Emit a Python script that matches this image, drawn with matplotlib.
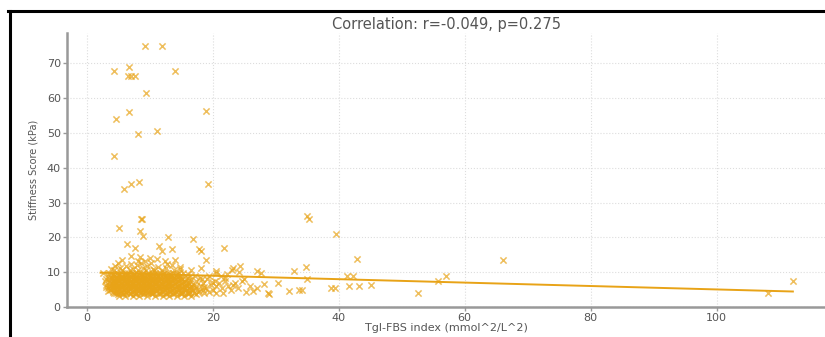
import numpy as np
import matplotlib
matplotlib.use("Agg")
import matplotlib.pyplot as plt
from matplotlib.lines import Line2D

# isolated high points
out_x = [9.25, 11.95, 4.3, 6.77, 6.5, 7.0, 7.67, 14.0, 9.37, 4.65, 6.77, 19.0,
         8.2, 11.1, 4.3, 5.97, 7.03, 8.35, 19.25, 8.67, 8.7, 5.17, 8.5, 9.0,
         12.85, 16.8, 6.35, 7.67, 11.5, 12.0, 13.6, 17.8, 18.2, 21.8, 13.97,
         18.9, 18.1]
out_y = [74.9, 74.9, 67.7, 69.0, 66.3, 66.3, 66.3, 67.7, 61.4, 54.1, 56.0, 56.2,
         49.6, 50.5, 43.5, 33.8, 35.3, 35.8, 35.3, 25.4, 25.2, 22.8, 21.9, 20.4,
         20.1, 19.5, 18.2, 17.0, 17.4, 16.1, 16.7, 16.7, 16.1, 17.0, 13.4,
         13.4, 11.3]

# points to the right of the main cluster
far_x = [34.9, 35.3, 39.5, 42.95, 66.1, 27.6, 32.9, 34.8, 35.0, 32.1, 33.7, 34.2,
         38.8, 39.4, 41.3, 42.2, 41.6, 43.3, 45.1, 52.6, 55.7, 57.0, 108.2, 112.1,
         26.0, 26.4, 27.1, 28.1, 28.7, 29.0, 30.3]
far_y = [26.1, 25.4, 20.9, 13.8, 13.6, 9.9, 10.3, 11.6, 8.0, 4.7, 4.8, 5.0,
         5.4, 5.4, 8.9, 8.9, 6.0, 5.9, 6.2, 3.9, 7.5, 8.8, 4.0, 7.4,
         5.9, 4.5, 5.5, 6.7, 3.9, 3.6, 7.0]

# the dense cluster, read row by row (y level, x positions)
row_y = [3.3, 3.9, 4.4, 4.9, 5.4, 5.9, 6.4, 6.9, 7.4, 7.9, 8.4, 8.9, 9.4, 9.9, 10.5]
row_x = [
    [5.2, 6.1, 7.4, 8.3, 9.6, 10.8, 12.1, 13.0, 14.4, 15.5, 16.6],
    [4.6, 5.7, 6.8, 7.9, 9.1, 10.2, 11.5, 12.6, 13.7, 14.9, 16.0, 17.1, 18.6, 21.7],
    [4.1, 5.0, 6.3, 7.2, 8.6, 9.8, 10.6, 11.9, 13.3, 14.2, 15.3, 16.4, 17.6, 19.4, 25.3],
    [3.7, 4.8, 5.9, 6.6, 7.7, 8.9, 9.4, 10.5, 11.2, 12.4, 13.5, 14.7, 15.8, 16.9, 18.5, 20.1, 22.9],
    [3.4, 4.4, 5.3, 6.2, 7.0, 8.1, 8.8, 9.9, 10.9, 11.7, 12.8, 13.9, 15.0, 16.2, 17.3, 19.0, 21.4, 24.0],
    [3.9, 4.9, 5.6, 6.5, 7.5, 8.4, 9.2, 10.1, 11.0, 12.2, 13.1, 14.3, 15.4, 16.6, 18.1, 20.6, 22.5],
    [3.0, 4.3, 5.1, 6.0, 6.9, 7.8, 8.6, 9.5, 10.4, 11.4, 12.5, 13.6, 14.6, 15.7, 17.0, 19.7, 23.3],
    [3.8, 4.7, 5.5, 6.4, 7.3, 8.2, 9.0, 9.9, 10.8, 11.8, 12.9, 14.0, 15.1, 16.3, 18.4, 21.0, 23.6],
    [2.9, 4.2, 5.2, 6.1, 7.1, 7.9, 8.7, 9.6, 10.6, 11.5, 12.6, 13.4, 14.5, 15.6, 17.4, 20.3, 21.9, 24.6],
    [3.6, 4.6, 5.4, 6.3, 7.4, 8.3, 9.3, 10.2, 11.1, 12.3, 13.2, 14.2, 15.2, 16.5, 18.3, 19.1, 24.9],
    [4.0, 5.0, 5.8, 6.7, 7.6, 8.5, 9.4, 10.5, 11.6, 12.7, 13.8, 15.0, 16.1, 18.0, 22.0],
    [3.3, 4.4, 5.6, 6.8, 7.9, 9.0, 10.1, 11.3, 12.4, 13.6, 14.8, 17.2, 19.4, 21.3],
    [4.1, 5.2, 6.4, 7.5, 8.8, 9.8, 11.0, 12.1, 13.3, 14.4, 16.0, 22.2],
    [2.6, 4.8, 6.0, 7.2, 8.4, 9.7, 10.9, 12.2, 13.7, 15.3, 20.6],
    [4.3, 5.6, 6.9, 8.1, 9.4, 10.7, 12.0, 13.9, 16.5, 23.1],
]

# second pass over the cluster, between the rows above
row2_y = [3.6, 4.15, 4.65, 5.15, 5.65, 6.15, 6.65, 7.15, 7.65, 8.15, 8.65, 9.15, 9.7]
row2_x = [
    [4.9, 5.7, 6.8, 7.9, 9.0, 10.3, 11.5, 12.6, 13.7, 14.9, 16.1, 17.4],
    [4.3, 5.3, 6.2, 7.5, 8.5, 9.5, 10.5, 11.8, 12.9, 14.0, 15.1, 16.2, 20.5],
    [3.3, 4.6, 5.5, 6.6, 7.5, 8.2, 9.2, 10.1, 11.0, 12.0, 13.0, 14.1, 15.0, 16.0, 17.8],
    [3.8, 4.2, 5.1, 6.0, 6.9, 7.9, 8.6, 9.6, 10.3, 11.4, 12.2, 13.2, 14.3, 15.4, 16.5],
    [3.1, 4.7, 5.5, 6.6, 7.3, 8.0, 8.9, 9.7, 10.6, 11.4, 12.3, 13.2, 14.2, 15.2, 16.4, 18.6],
    [3.6, 4.3, 5.2, 6.1, 7.0, 7.8, 8.7, 9.6, 10.5, 11.5, 12.6, 13.6, 14.7, 15.9, 17.4],
    [4.2, 4.7, 5.5, 6.4, 7.3, 8.1, 9.0, 9.9, 10.9, 11.9, 13.0, 14.0, 15.1, 16.3],
    [3.5, 4.4, 5.2, 6.0, 6.8, 7.6, 8.5, 9.4, 10.3, 11.2, 12.2, 13.2, 14.3, 15.4, 19.9],
    [4.4, 4.8, 5.7, 6.6, 7.5, 8.4, 9.1, 10.0, 11.0, 11.9, 12.9, 13.9, 15.0, 16.2],
    [3.1, 4.3, 5.1, 6.0, 7.0, 7.9, 8.9, 9.8, 10.7, 11.7, 12.7, 13.6, 14.7, 15.8],
    [3.8, 4.7, 5.5, 6.3, 7.2, 8.1, 9.0, 10.0, 11.1, 12.1, 13.3, 14.4],
    [4.2, 5.0, 6.1, 7.3, 8.4, 9.5, 10.6, 11.7, 12.9, 14.1],
    [3.6, 5.4, 6.6, 7.8, 9.0, 10.3, 11.6, 12.9, 14.6],
]

# sparse top edge of the cluster
top_x = [3.9, 5.3, 7.4, 8.9, 10.5, 12.6, 14.8, 20.6, 23.3, 24.1, 27.1,
         4.5, 6.3, 8.0, 9.6, 11.3, 13.5, 24.4, 14.8,
         5.0, 7.1, 8.6, 10.2, 12.8,
         5.55, 8.2, 9.3, 12.4, 11.1, 7.1, 8.5, 10.0]
top_y = [11.0, 11.2, 11.0, 11.3, 10.9, 11.2, 11.0, 10.3, 11.3, 10.0, 10.3,
         11.9, 11.7, 12.0, 11.8, 11.6, 12.1, 11.8, 11.5,
         12.6, 12.4, 12.7, 12.5, 12.3,
         13.4, 13.1, 13.3, 13.2, 13.9, 14.6, 14.3, 14.0]

# fitted line ends
fit_x = [2.2, 112.1]
fit_y = [9.85, 4.45]

xticks = [0, 20, 40, 60, 80, 100]
yticks = [0, 10, 20, 30, 40, 50, 60, 70]

clu_x, clu_y = [], []
for yy, xs in zip(row_y + row2_y, row_x + row2_x):
    clu_x += xs
    clu_y += [yy] * len(xs)

all_x = out_x + far_x + clu_x + top_x
all_y = out_y + far_y + clu_y + top_y

col = "#E8A317"
grey = "#555555"

fig = plt.figure(figsize=(8.25, 3.37), dpi=100)
ax = fig.add_axes([67 / 825, 1 - 307 / 337, 1 - 67 / 825, (307 - 33) / 337])

ax.scatter(all_x, all_y, marker="x", s=20, linewidths=1.1, color=col, alpha=0.7, zorder=3)
ax.plot(fit_x, fit_y, color=col, lw=1.4, zorder=4)

ax.set_xlim(-3.13, 117.2)
ax.set_ylim(0, 78.7)
ax.set_xticks(xticks)
ax.set_yticks(yticks)
ax.grid(True, color="#dddddd", lw=0.8, ls=":")
ax.set_axisbelow(True)

for s in ["top", "right"]:
    ax.spines[s].set_visible(False)
for s in ["left", "bottom"]:
    ax.spines[s].set_color("#999999")
    ax.spines[s].set_linewidth(1.8)
ax.tick_params(colors="#999999", labelcolor=grey, labelsize=8, length=3, width=1, pad=1.5)

ax.set_title("Correlation: r=-0.049, p=0.275", fontsize=10.5, color=grey, pad=3)
ax.set_xlabel("Tgl-FBS index (mmol^2/L^2)", fontsize=8, color=grey, labelpad=0)
ax.set_ylabel("Stiffness Score (kPa)", fontsize=7, color=grey, labelpad=6)

# black frame on top and left
fig.add_artist(Line2D([8 / 825, 1], [1 - 11 / 337, 1 - 11 / 337], color="black", lw=2.2,
                      transform=fig.transFigure))
fig.add_artist(Line2D([9.5 / 825, 9.5 / 825], [0, 1 - 11 / 337], color="black", lw=2.2,
                      transform=fig.transFigure))

fig.savefig("out.png", dpi=100)
